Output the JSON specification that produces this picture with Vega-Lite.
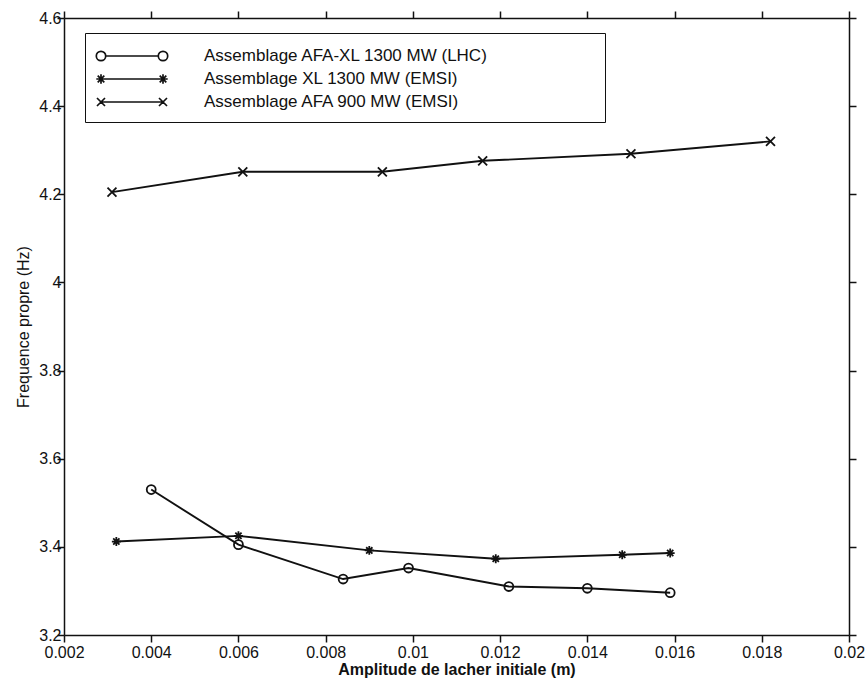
{
  "$schema": "https://vega.github.io/schema/vega-lite/v6.json",
  "width": 785,
  "height": 617,
  "autosize": "none",
  "padding": {"left": 64, "top": 18, "right": 18, "bottom": 44},
  "background": "white",
  "config": {
    "view": {"stroke": null},
    "font": "Liberation Sans",
    "axis": {
      "grid": false,
      "ticks": true,
      "domainColor": "#111",
      "domainWidth": 1.5,
      "tickColor": "#111",
      "tickWidth": 1.5,
      "tickSize": 7,
      "labelColor": "#111",
      "labelFont": "Liberation Sans",
      "labelFontSize": 16,
      "titleColor": "#111",
      "titleFont": "Liberation Sans",
      "titleFontWeight": "normal"
    }
  },
  "data": {
    "values": [
      {"series": "Assemblage AFA-XL 1300 MW (LHC)", "amp": 0.0040, "freq": 3.530},
      {"series": "Assemblage AFA-XL 1300 MW (LHC)", "amp": 0.0060, "freq": 3.405},
      {"series": "Assemblage AFA-XL 1300 MW (LHC)", "amp": 0.0084, "freq": 3.327},
      {"series": "Assemblage AFA-XL 1300 MW (LHC)", "amp": 0.0099, "freq": 3.352},
      {"series": "Assemblage AFA-XL 1300 MW (LHC)", "amp": 0.0122, "freq": 3.310},
      {"series": "Assemblage AFA-XL 1300 MW (LHC)", "amp": 0.0140, "freq": 3.306},
      {"series": "Assemblage AFA-XL 1300 MW (LHC)", "amp": 0.0159, "freq": 3.296},
      {"series": "Assemblage XL 1300 MW (EMSI)", "amp": 0.0032, "freq": 3.412},
      {"series": "Assemblage XL 1300 MW (EMSI)", "amp": 0.0060, "freq": 3.425},
      {"series": "Assemblage XL 1300 MW (EMSI)", "amp": 0.0090, "freq": 3.392},
      {"series": "Assemblage XL 1300 MW (EMSI)", "amp": 0.0119, "freq": 3.373},
      {"series": "Assemblage XL 1300 MW (EMSI)", "amp": 0.0148, "freq": 3.382},
      {"series": "Assemblage XL 1300 MW (EMSI)", "amp": 0.0159, "freq": 3.386},
      {"series": "Assemblage AFA 900 MW (EMSI)", "amp": 0.0031, "freq": 4.205},
      {"series": "Assemblage AFA 900 MW (EMSI)", "amp": 0.0061, "freq": 4.251},
      {"series": "Assemblage AFA 900 MW (EMSI)", "amp": 0.0093, "freq": 4.251},
      {"series": "Assemblage AFA 900 MW (EMSI)", "amp": 0.0116, "freq": 4.276},
      {"series": "Assemblage AFA 900 MW (EMSI)", "amp": 0.0150, "freq": 4.292},
      {"series": "Assemblage AFA 900 MW (EMSI)", "amp": 0.0182, "freq": 4.320}
    ]
  },
  "layer": [
    {
      "mark": {"type": "line", "color": "#111", "strokeWidth": 1.9},
      "encoding": {
        "x": {"field": "amp", "type": "quantitative",
              "scale": {"domain": [0.002, 0.02], "nice": false, "zero": false},
              "axis": {"orient": "bottom", "values": [0.002, 0.004, 0.006, 0.008, 0.01, 0.012, 0.014, 0.016, 0.018, 0.02],
                       "format": ".3~f", "labelPadding": 2, "title": "Amplitude de lacher initiale (m)",
                       "titleFontSize": 16, "titleFontWeight": "bold", "titlePadding": 1, "labelFlush": false, "labelOverlap": false,
                       "encode": {"ticks": {"update": {"y2": {"value": -7}}}}}},
        "y": {"field": "freq", "type": "quantitative",
              "scale": {"domain": [3.2, 4.6], "nice": false, "zero": false},
              "axis": {"orient": "left", "values": [3.2, 3.4, 3.6, 3.8, 4.0, 4.2, 4.4, 4.6],
                       "format": ".1~f", "labelPadding": -4, "title": "Frequence propre (Hz)",
                       "titleFontSize": 16, "titlePadding": 7, "labelFlush": false, "labelOverlap": false,
                       "encode": {"ticks": {"update": {"x2": {"value": 7}}}}}},
        "detail": {"field": "series"}
      }
    },
    {
      "mark": {"type": "point", "filled": false, "stroke": "#111", "strokeWidth": 1.8, "opacity": 1},
      "encoding": {
        "x": {"field": "amp", "type": "quantitative", "axis": null},
        "y": {"field": "freq", "type": "quantitative", "axis": null},
        "shape": {
          "field": "series", "type": "nominal",
          "scale": {
            "domain": ["Assemblage AFA-XL 1300 MW (LHC)", "Assemblage XL 1300 MW (EMSI)", "Assemblage AFA 900 MW (EMSI)"],
            "range": ["circle", "M-1,0L1,0M0,-1L0,1M-0.7,-0.7L0.7,0.7M-0.7,0.7L0.7,-0.7", "M-1,-1L1,1M-1,1L1,-1"]
          },
          "legend": null
        },
        "size": {"value": 80}
      }
    },
    {
      "mark": {"type": "point", "filled": false, "stroke": "#111", "strokeWidth": 1.7, "opacity": 0},
      "encoding": {
        "x": {"field": "amp", "type": "quantitative", "axis": null},
        "y": {"field": "freq", "type": "quantitative", "axis": null},
        "shape": {
          "field": "series", "type": "nominal",
          "scale": {
            "domain": ["Assemblage AFA-XL 1300 MW (LHC)", "Assemblage XL 1300 MW (EMSI)", "Assemblage AFA 900 MW (EMSI)"],
            "range": [
              "M-0.23,0A0.47,0.47,0,1,1,-1.17,0A0.47,0.47,0,1,1,-0.23,0M-0.23,0L5.03,0M5.97,0A0.47,0.47,0,1,1,5.03,0A0.47,0.47,0,1,1,5.97,0",
              "M-0.7,0L5.5,0M-1.17,0L-0.23,0M-0.7,-0.47L-0.7,0.47M-1.03,-0.33L-0.37,0.33M-1.03,0.33L-0.37,-0.33M5.03,0L5.97,0M5.5,-0.47L5.5,0.47M5.17,-0.33L5.83,0.33M5.17,0.33L5.83,-0.33",
              "M-0.7,0L5.5,0M-1.1,-0.4L-0.3,0.4M-1.1,0.4L-0.3,-0.4M5.1,-0.4L5.9,0.4M5.1,0.4L5.9,-0.4"
            ]
          },
          "legend": {
            "orient": "none", "legendX": 21, "legendY": 15,
            "title": null,
            "strokeColor": "#111", "fillColor": "white", "padding": 12,
            "symbolSize": 400, "symbolStrokeWidth": 1.7, "symbolStrokeColor": "#111", "symbolFillColor": "transparent", "symbolOpacity": 1,
            "labelFontSize": 17, "labelColor": "#111", "labelFont": "Liberation Sans", "labelOffset": 85, "labelLimit": 0,
            "rowPadding": 3,
            "labelExpr": "datum.label + '\u00a0\u00a0\u00a0\u00a0\u00a0\u00a0\u00a0\u00a0\u00a0\u00a0\u00a0\u00a0\u00a0\u00a0\u00a0\u00a0\u00a0\u00a0\u00a0\u00a0\u00a0\u00a0\u200b'"
          }
        },
        "size": {"value": 400}
      }
    },
    {
      "mark": {"type": "line", "opacity": 0},
      "encoding": {
        "x": {"field": "amp", "type": "quantitative",
              "axis": {"orient": "top", "values": [0.002, 0.004, 0.006, 0.008, 0.01, 0.012, 0.014, 0.016, 0.018, 0.02], "labels": false, "title": null,
                       "encode": {"ticks": {"update": {"y2": {"value": 7}}}}}},
        "y": {"field": "freq", "type": "quantitative",
              "axis": {"orient": "right", "values": [3.2, 3.4, 3.6, 3.8, 4.0, 4.2, 4.4, 4.6], "labels": false, "title": null,
                       "encode": {"ticks": {"update": {"x2": {"value": -7}}}}}},
        "detail": {"field": "series"}
      }
    }
  ],
  "resolve": {"axis": {"x": "independent", "y": "independent"}, "scale": {"shape": "independent"}, "legend": {"shape": "independent"}}
}
